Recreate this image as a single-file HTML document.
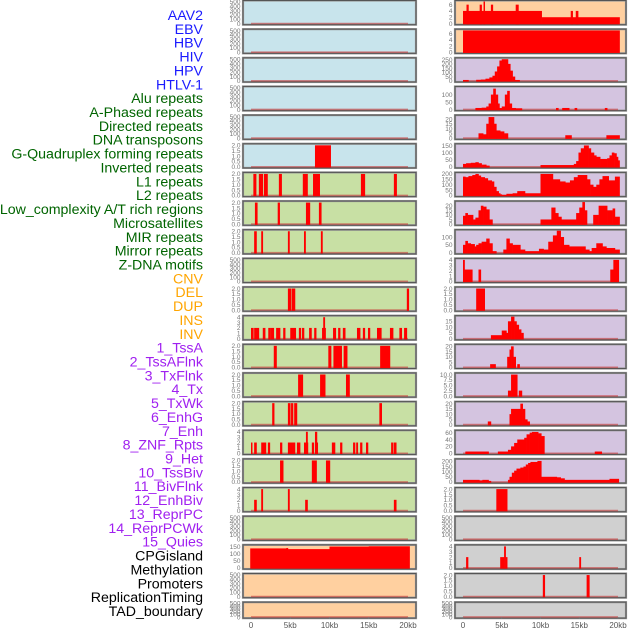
<!DOCTYPE html>
<html><head><meta charset="utf-8"><style>
body{margin:0;background:#fff;width:630px;height:630px;overflow:hidden}
svg{display:block;font-family:"Liberation Sans",sans-serif}
</style></head><body>
<svg id="chart" width="630" height="630"></svg>
<script>
// ---- labels ----
const labelNames = ["AAV2","EBV","HBV","HIV","HPV","HTLV-1","Alu repeats","A-Phased repeats","Directed repeats","DNA transposons","G-Quadruplex forming repeats","Inverted repeats","L1 repeats","L2 repeats","Low_complexity A/T rich regions","Microsatellites","MIR repeats","Mirror repeats","Z-DNA motifs","CNV","DEL","DUP","INS","INV","1_TssA","2_TssAFlnk","3_TxFlnk","4_Tx","5_TxWk","6_EnhG","7_Enh","8_ZNF_Rpts","9_Het","10_TssBiv","11_BivFlnk","12_EnhBiv","13_ReprPC","14_ReprPCWk","15_Quies","CPGisland","Methylation","Promoters","ReplicationTiming","TAD_boundary"];
const labelGroups = [6,13,5,15,5];
const groupColors = ["#1a1aff","#006400","#ffa500","#a020f0","#000000"];
// ---- x axis ----
const xTickValues = [0,5,10,15,20];
const xTickLabels = ["0","5kb","10kb","15kb","20kb"];
// ---- left column data [startKb,endKb,value] ----
const L6 = [[8.15,10.15,2]];
const L7 = [[0.3,0.65,2],[1.0,1.5,2],[1.65,2.1,2],[3.55,3.9,2],[6.6,7.2,2],[7.9,8.75,2],[14.0,14.5,2],[18.2,18.55,2]];
const L8 = [[0.5,0.8,2],[3.4,3.65,2],[7.0,7.5,2],[8.65,8.95,2]];
const L9 = [[0.4,0.7,2],[1.3,1.5,2],[4.7,4.9,2],[6.75,6.95,2],[8.9,9.1,2]];
const L11 = [[4.7,5.1,2],[5.2,5.6,2],[19.85,20.1,2]];
const L12 = [[0,0.3,2],[0.4,1.0,2],[1.5,1.8,2],[2.2,2.5,2],[2.55,2.9,2],[3.2,3.7,2],[4.1,4.35,2],[5.0,5.7,2],[6.1,6.35,2],[6.5,6.75,2],[7.4,7.7,2],[8.05,8.3,2],[9.05,9.5,2],[9.2,9.4,4],[10.45,10.8,2],[11.1,11.35,2],[11.7,12.0,2],[13.5,13.9,2],[14.25,14.5,2],[14.9,15.15,2],[16.05,16.6,2],[17.7,18.1,2],[18.9,19.2,2],[19.5,19.85,2]];
const L13 = [[2.9,3.25,2],[9.85,10.2,2],[10.5,11.55,2],[11.8,12.25,2],[16.45,17.7,2]];
const L14 = [[6.0,6.6,2],[8.8,9.45,2],[12.1,12.55,2]];
const L15 = [[2.7,2.95,2],[4.7,5.0,2],[5.1,5.35,2],[5.5,5.85,2],[16.35,16.65,2]];
const L16 = [[0,0.15,2],[0.4,0.7,2],[1.3,1.9,2],[2.15,2.4,2],[3.7,3.95,2],[4.7,5.6,2],[5.85,6.25,2],[6.75,7.25,2],[7.75,8.0,2],[8.15,8.5,2],[10.3,10.7,2],[11.35,11.6,2],[13.0,13.25,2],[13.4,13.6,2],[13.9,14.15,2],[14.65,14.9,2],[17.85,18.1,2],[18.2,18.5,2],[7.0,7.2,4],[8.15,8.4,4]];
const L17 = [[3.7,4.1,2],[7.75,8.35,2],[9.55,10.05,2]];
const L18 = [[0.4,0.7,2],[1.3,1.5,4],[4.7,4.9,4],[6.9,7.2,2],[18.2,18.5,2]];
const L20 = [[-0.1,4.5,137],[4.5,4.7,140],[4.7,10.0,132],[10.0,15.0,150],[15.0,20.2,152]];
// ---- right column data ----
const R1 = [[0,10.15,4],[0.45,0.7,6],[2.15,2.4,6],[2.65,2.8,7],[3.6,3.85,6],[6.8,7.15,6],[10.15,20.2,2],[13.9,14.15,4],[14.55,14.85,4]];
const R2 = [[0,20.2,7]];
const R3 = [[0,0.7,10],[1.7,2.3,12],[2.3,2.9,15],[2.9,3.4,25],[3.4,3.8,40],[3.8,4.1,60],[4.1,4.4,110],[4.4,4.7,170],[4.7,5.0,240],[5.0,5.8,255],[5.8,6.1,200],[6.1,6.4,120],[6.4,6.7,50],[6.7,7.3,10]];
const R4 = [[1.6,2.4,10],[2.4,3.0,12],[3.0,3.3,20],[3.3,3.6,40],[3.6,3.9,100],[3.9,4.2,140],[4.2,4.5,100],[4.5,4.7,40],[4.7,5.0,10],[5.0,5.4,20],[5.4,5.7,100],[5.7,6.0,125],[6.0,6.3,40],[6.3,6.8,10],[6.8,7.6,8],[12.0,12.3,10],[12.8,13.7,10],[14.4,14.7,10],[18.3,18.6,10]];
const R5 = [[2,2.6,5],[2.6,3,4],[3,3.3,15],[3.3,4.0,22],[4.0,4.3,15],[4.3,4.8,8],[4.8,5.3,7],[5.3,5.8,5],[13.2,14.0,3],[18.5,20.2,3]];
const R6 = [[0,0.4,20],[0.4,1.0,25],[1.0,1.6,28],[1.6,2.0,32],[2.0,2.4,25],[2.4,3.0,15],[3.0,3.4,8],[10.0,14.3,12],[14.3,14.6,20],[14.6,14.9,40],[14.9,15.2,100],[15.2,15.6,130],[15.6,16.2,150],[16.2,16.5,130],[16.5,16.9,100],[16.9,17.2,80],[17.2,17.7,70],[17.7,18.6,55],[18.6,18.9,60],[18.9,19.2,80],[19.2,19.5,100],[19.5,19.8,95],[19.8,20.0,70],[20,20.2,45]];
const R7 = [[0,0.3,175],[0.3,0.7,170],[0.7,1.2,180],[1.2,1.6,190],[1.6,2.0,200],[2.0,2.3,185],[2.3,2.8,170],[2.8,3.2,160],[3.2,3.7,140],[3.7,4.0,130],[4.0,4.3,80],[4.3,4.6,40],[4.6,4.8,20],[4.8,5.0,10],[5.0,5.6,5],[5.6,6.4,15],[6.4,7.0,20],[7.0,8.0,40],[8.0,10.0,20],[10.0,11.6,200],[11.6,12.5,150],[12.5,13.2,130],[13.2,13.8,120],[13.8,14.3,140],[14.3,14.8,170],[14.8,16.0,190],[16.0,16.4,150],[16.4,16.8,100],[16.8,17.2,80],[17.2,17.6,100],[17.6,18.0,150],[18.0,18.8,180],[18.8,19.6,140],[19.6,20.2,175]];
const R8 = [[0,0.3,9],[0.3,0.6,12],[0.6,1.3,10],[1.3,1.6,5],[1.6,2.0,7],[2.0,2.3,15],[2.3,2.6,20],[2.6,3.0,19],[3.0,3.4,16],[3.4,3.8,5],[10.0,11.4,5],[11.4,11.9,18],[11.9,12.3,12],[12.3,12.7,8],[12.7,14.6,5],[14.6,15.0,12],[15.0,15.4,18],[15.4,15.7,24],[15.7,16.0,15],[16.8,17.5,10],[17.5,18.6,20],[18.6,19.3,15],[19.3,19.6,17],[19.6,20.2,8]];
const R9 = [[0,0.3,50],[0.3,0.6,75],[0.6,1.0,60],[1.0,1.5,55],[1.5,1.7,40],[1.7,2.0,50],[2.0,2.4,60],[2.4,3.0,70],[3.0,3.4,90],[3.4,3.8,60],[3.8,4.3,10],[5.2,5.6,20],[5.6,6.0,90],[6.0,6.4,60],[6.4,7.4,50],[7.4,8.0,20],[8.0,9.8,10],[9.8,10.4,25],[10.4,11.0,20],[11.0,11.6,70],[11.6,12.1,110],[12.1,12.6,140],[12.6,13.0,100],[13.0,13.7,50],[13.7,15.8,40],[15.8,16.3,20],[16.3,16.6,10],[16.6,17.2,30],[17.2,18.0,60],[18.0,18.5,40],[18.5,19.6,30],[19.6,20.2,20]];
const R10 = [[0,0.2,4],[0.2,1.2,2.2],[2.0,2.3,2.2],[19.0,19.4,2.2],[19.4,20.1,4]];
const R11 = [[1.7,2.8,2]];
const R12 = [[3.6,5.0,3],[5.0,5.6,7],[5.6,5.8,5],[5.8,6.2,15],[6.2,6.6,19],[6.6,6.9,15],[6.9,7.2,12],[7.2,7.5,8],[7.5,7.8,5]];
const R13 = [[3.5,4.2,3],[5.7,6.0,10],[6.0,6.2,17],[6.2,6.5,20],[6.5,6.8,10],[7.0,7.3,3]];
const R14 = [[5.8,6.2,2.5],[6.2,7.0,10],[7.2,7.6,2.5]];
const R15 = [[3.2,3.6,3],[6.0,6.2,10],[6.2,7.4,15],[7.4,7.7,20],[7.7,8.0,15],[8.0,8.3,5],[8.3,8.6,3]];
const R16 = [[0.3,3.3,5],[4.5,5.8,5],[5.8,6.2,10],[6.2,6.6,20],[6.6,7.0,30],[7.0,7.9,40],[7.9,8.2,45],[8.2,8.6,55],[8.6,8.9,60],[8.9,9.7,62],[9.7,10.1,58],[10.1,10.5,50],[17.0,17.9,5]];
const R17 = [[0,2.1,20],[2.1,2.5,15],[2.5,3.3,20],[3.3,3.6,10],[5.8,6.0,20],[6.0,6.3,50],[6.3,6.6,90],[6.6,6.9,110],[6.9,7.4,130],[7.4,7.8,140],[7.8,8.1,150],[8.1,8.4,170],[8.4,8.7,185],[8.7,9.6,195],[9.6,10.1,205],[10.1,12.1,50],[12.1,12.6,45],[12.6,13.1,35],[13.1,18.9,20],[18.9,20.1,30]];
const R18 = [[4.3,5.7,2]];
const R20 = [[0.4,0.65,2],[4.8,5.3,2],[5.3,5.5,4],[5.5,5.7,2],[15.0,15.2,2]];
const R21 = [[10.3,10.55,2],[15.95,16.3,2]];
// ---- tick sets ----
const T500 = ["0","100","200","300","400","500"];
const T2 = ["0.0","0.5","1.0","1.5","2.0"];
const T4 = ["0","1","2","3","4"];
const T150 = ["0","50","100","150"];
const T6 = ["0","2","4","6"];
const T250 = ["0","50","100","150","200","250"];
const T100 = ["0","50","100"];
const T20 = ["0","5","10","15","20"];
const T200 = ["0","50","100","150","200"];
const T15 = ["0","5","10","15"];
const T10 = ["0.0","2.5","5.0","7.5","10.0"];
const T60 = ["0","20","40","60"];
// per-row: [data, yMax, ticks, color]
const leftRows = [[[],510,T500,"b"],[[],510,T500,"b"],[[],510,T500,"b"],[[],510,T500,"b"],[[],510,T500,"b"],[L6,2.05,T2,"b"],
 [L7,2.05,T2,"g"],[L8,2.05,T2,"g"],[L9,2.05,T2,"g"],[[],510,T500,"g"],[L11,2.05,T2,"g"],[L12,4.1,T4,"g"],[L13,2.05,T2,"g"],[L14,2.05,T2,"g"],[L15,2.05,T2,"g"],[L16,4.1,T4,"g"],[L17,2.05,T2,"g"],[L18,4.1,T4,"g"],[[],510,T500,"g"],
 [L20,155,T150,"o"],[[],510,T500,"o"],[[],510,T500,"o"]];
const rightRows = [[R1,7,T6,"o"],[R2,7.1,T6,"o"],[R3,260,T250,"p"],[R4,148,T100,"p"],[R5,23,T20,"p"],[R6,155,T150,"p"],[R7,205,T200,"p"],[R8,24,T20,"p"],[R9,140,T100,"p"],[R10,4.1,T4,"p"],[R11,2.05,T2,"p"],[R12,19,T15,"p"],[R13,21,T20,"p"],[R14,10.3,T10,"p"],[R15,21,T20,"p"],[R16,64,T60,"p"],[R17,215,T200,"p"],
 [R18,2.05,T2,"s"],[[],510,T500,"s"],[R20,4.1,T4,"s"],[R21,2.05,T2,"s"],[[],510,T500,"s"]];

const fills = {b:"#c8e4ec",g:"#c8e0a4",o:"#ffd0a0",p:"#d4c4e0",s:"#d0d0d0"};
const svg = document.getElementById('chart');
const NS = "http://www.w3.org/2000/svg";
function mk(tag, attrs, parent){const e=document.createElementNS(NS,tag);for(const k in attrs)e.setAttribute(k,attrs[k]);(parent||svg).appendChild(e);return e;}

// labels
let li=0;
labelGroups.forEach((n,g)=>{for(let i=0;i<n;i++){
  const t=mk('text',{x:203,y:15+li*13.86+5,'text-anchor':'end','font-size':'14.2',fill:groupColors[g]});
  t.textContent=labelNames[li];
  
  
  li++;}});

const cols=[{x:243,w:173,x0:251,x1:408,rows:leftRows,name:'left'},{x:455,w:171,x0:463,x1:618,rows:rightRows,name:'right'}];
cols.forEach(col=>{
  const xs=kb=>col.x0+(kb/20)*(col.x1-col.x0);
  col.rows.forEach((row,i)=>{
    const [data,yMax,ticks,c]=row;
    const top=i*28.65+0.5, h=(i===21)?16:24.2, bottom=top+h;
    const ys=v=>bottom-1.2-(v/yMax)*(h-2.2);
    const g=mk('g',{});
    
    
    mk('rect',{x:col.x,y:top,width:col.w,height:h,fill:fills[c],stroke:'#9a9a9a','stroke-width':2.2},g);
    mk('rect',{x:col.x,y:top,width:col.w,height:h,fill:'none',stroke:'#555','stroke-width':1},g);
    // y ticks
    const step=yMax>0?1:1;
    ticks.forEach((lab,k)=>{
      const v=parseFloat(lab);
      const t=mk('text',{x:col.x-2.5,y:ys(v)+2.3,'text-anchor':'end','font-size':'6.5',fill:'#777'},g);
      t.textContent=lab;
      
      
    });
    // baseline
    mk('line',{x1:xs(0),x2:xs(20),y1:ys(0),y2:ys(0),stroke:'rgba(200,50,50,0.55)','stroke-width':1.6},g);
    data.forEach(d=>{
      const x1=xs(d[0]),x2=xs(d[1]);
      const r=mk('rect',{x:x1,y:ys(d[2]),width:Math.max(0.8,x2-x1+0.3),height:ys(0)-ys(d[2])+0.8,fill:'#ff0000'},g);
      
      
    });
  });
  // x axis
  xTickValues.forEach((v,k)=>{
    mk('line',{x1:xs(v),x2:xs(v),y1:617,y2:619,stroke:'#777','stroke-width':0.8});
    const t=mk('text',{x:xs(v),y:628,'text-anchor':'middle','font-size':'8',fill:'#555'});
    t.textContent=xTickLabels[k];
    
    
  });
});
</script>
</body></html>
